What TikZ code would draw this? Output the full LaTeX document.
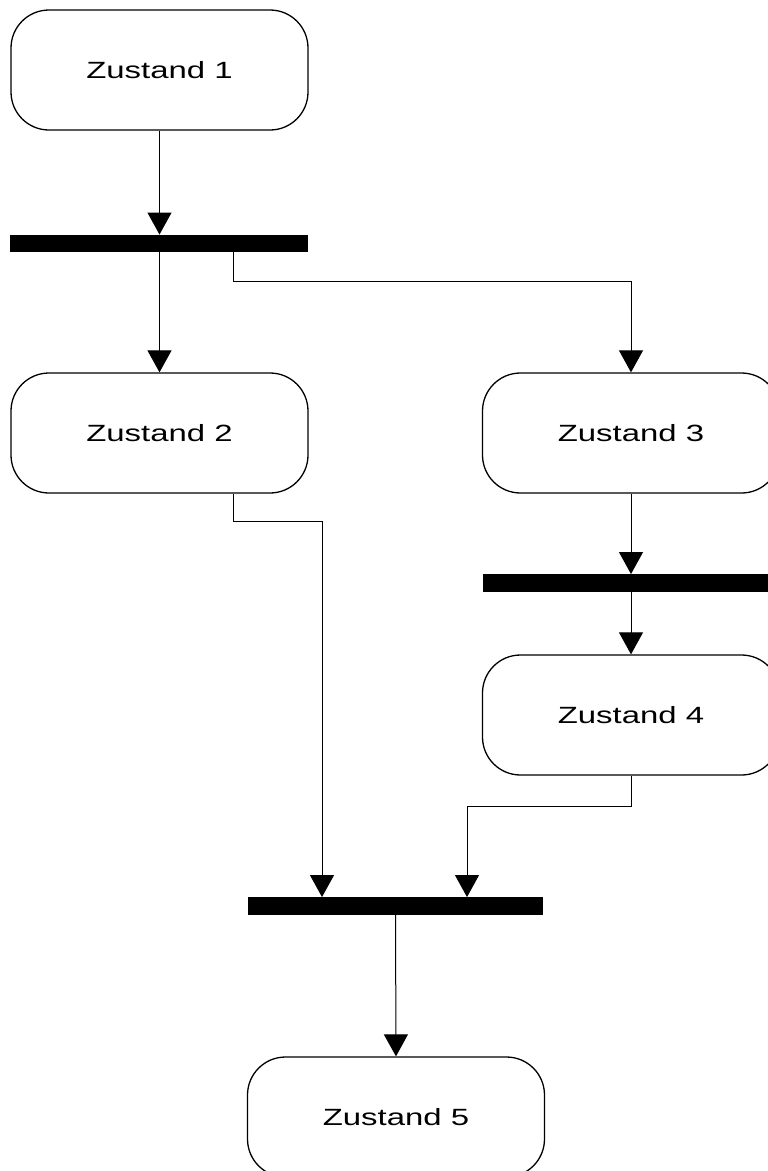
\documentclass[tikz,border=0pt]{standalone}
\usepackage{fontspec}
\setmainfont{Liberation Sans}
\usetikzlibrary{arrows.meta}

\tikzset{
  state/.style={draw, line width=1.3pt, rounded corners=38pt,
    minimum width=297pt, minimum height=120pt, inner sep=0pt,
    font=\fontsize{23.5}{23.5}\selectfont},
  syncbar/.style={fill=black, draw=none, minimum height=17.5pt, inner sep=0pt},
  flow/.style={line width=1pt, -{Triangle[width=24pt,length=22pt]}}
}
\newcommand{\wide}[1]{\scalebox{1.4}[1]{#1}}

\begin{document}
\begin{tikzpicture}[x=1pt, y=-1pt]
  \useasboundingbox (0,0) rectangle (768,1171);

  % states
  \node[state] (z1) at (159.5,70)  {\wide{Zustand 1}};
  \node[state] (z2) at (159.5,433) {\wide{Zustand 2}};
  \node[state] (z3) at (631,433)   {\wide{Zustand 3}};
  \node[state] (z4) at (631,715)   {\wide{Zustand 4}};
  \node[state] (z5) at (396,1117)  {\wide{Zustand 5}};

  % fork / join bars
  \node[syncbar, minimum width=298pt] (b1) at (159,243.5) {};
  \node[syncbar, minimum width=297pt] (b2) at (631.5,583) {};
  \node[syncbar, minimum width=295pt] (b3) at (395.5,906) {};

  % transitions
  \draw[flow] (z1.south) -- (z1.south |- b1.north);
  \draw[flow] (b1.south -| z2.north) -- (z2.north);
  \draw[flow] ([xshift=74pt]b1.south) -- ++(0,29) -| (z3.north);

  \draw[flow] (z3.south) -- (z3.south |- b2.north);
  \draw[flow] (z3.south |- b2.south) -- (z4.north);

  \draw[flow] ([xshift=74pt]z2.south) -- ++(0,28) -| ([xshift=-73.5pt]b3.north);
  \draw[flow] (z4.south) -- ++(0,31) -| ([xshift=71.5pt]b3.north);

  \draw[flow] (b3.south) -- (z5.north);
\end{tikzpicture}
\end{document}
